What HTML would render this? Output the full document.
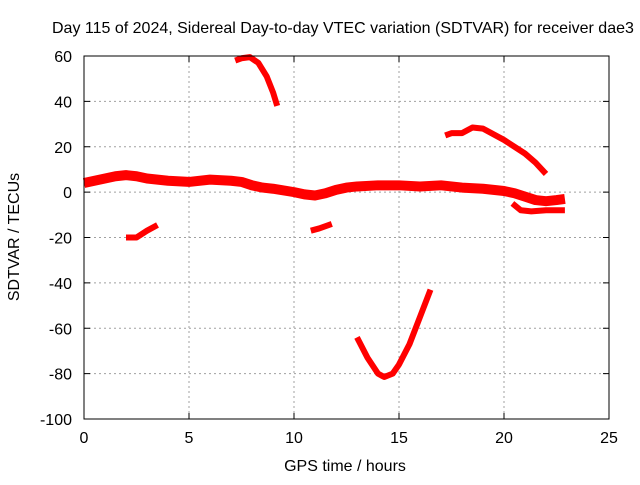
<!DOCTYPE html>
<html><head><meta charset="utf-8"><style>
body{margin:0;background:#fff;}
svg text{font-family:"Liberation Sans",sans-serif;font-size:16px;fill:#000;}
</style></head><body>
<svg id="chart" width="640" height="480" xmlns="http://www.w3.org/2000/svg">
<text x="52" y="33" text-anchor="start">Day 115 of 2024, Sidereal Day-to-day VTEC variation (SDTVAR) for receiver dae3</text>
<text x="345" y="471" text-anchor="middle">GPS time / hours</text>
<text transform="translate(19,237) rotate(-90)" text-anchor="middle">SDTVAR / TECUs</text>
<g id="grid"></g>
<g id="series"></g>
<rect x="84" y="56" width="525" height="363" fill="none" stroke="#000" stroke-width="1"/>
<g id="ticks"></g>
</svg>
<script>
const xTicks=[0,5,10,15,20,25];
const yTicks=[60,40,20,0,-20,-40,-60,-80,-100];
const mainBand=[[0,4],[0.5,5],[1,6],[1.5,7],[2,7.5],[2.5,7],[3,6],[3.5,5.5],[4,5],[5,4.5],[6,5.5],[7,5],[7.5,4.5],[8,3],[8.5,2],[9,1.5],[10,0],[10.5,-1],[11,-1.5],[11.5,-0.5],[12,1],[12.5,2],[13,2.5],[14,3],[15,3],[16,2.5],[17,3],[18,2],[19,1.5],[20,0.5],[20.5,-0.5],[21,-2],[21.5,-3.5],[22,-4],[22.5,-3.5],[22.9,-3]];
const lowerBranch=[[20.4,-5],[20.8,-8],[21.3,-8.5],[22,-8],[22.9,-8]];
const segA=[[2,-20],[2.5,-20],[3,-17],[3.5,-14.5]];
const segB=[[10.8,-17],[11.2,-16],[11.8,-14]];
const topArch=[[7.2,58],[7.5,59],[7.9,59.5],[8.3,57],[8.7,51],[9.0,44],[9.2,38]];
const rightUpper=[[17.2,25],[17.5,26],[18,26],[18.5,28.5],[19,28],[20,23],[21,17],[21.5,13],[22,8]];
const valley=[[13,-64],[13.5,-73],[14,-80],[14.3,-81.5],[14.7,-80],[15,-76],[15.5,-67],[16,-55],[16.5,-43]];
const NS="http://www.w3.org/2000/svg";
const X0=84,X1=609,Y0=419,Y1=56;
function xs(v){return X0+(v-0)/(25-0)*(X1-X0);}
function ys(v){return Y0-(v+100)/160*(Y0-Y1);}
const grid=document.getElementById('grid'),ticks=document.getElementById('ticks'),ser=document.getElementById('series');
function mk(t,a,p){const e=document.createElementNS(NS,t);for(const k in a)e.setAttribute(k,a[k]);p.appendChild(e);return e;}
xTicks.forEach(v=>{const x=xs(v);
 if(v>0&&v<25){const g=mk('line',{x1:x,x2:x,y1:Y1,y2:Y0,stroke:'#a0a0a0','stroke-dasharray':'2,3'},grid);
 
 }
 const t1=mk('line',{x1:x,x2:x,y1:Y0,y2:Y0-6,stroke:'#000'},ticks);
 
 
 const t2=mk('line',{x1:x,x2:x,y1:Y1,y2:Y1+6,stroke:'#000'},ticks);
 
 
 const l=mk('text',{x:x,y:443,'text-anchor':'middle'},ticks);l.textContent=v;
 
 
});
yTicks.forEach(v=>{const y=ys(v);
 if(v>-100&&v<60){const g=mk('line',{x1:X0,x2:X1,y1:y,y2:y,stroke:'#a0a0a0','stroke-dasharray':'2,3'},grid);
 
 }
 const t1=mk('line',{x1:X0,x2:X0+6,y1:y,y2:y,stroke:'#000'},ticks);
 
 
 const t2=mk('line',{x1:X1,x2:X1-6,y1:y,y2:y,stroke:'#000'},ticks);
 
 
 const l=mk('text',{x:72,y:y+6,'text-anchor':'end'},ticks);l.textContent=v;
 
 
});
function draw(data,name,w){
 const p=mk('polyline',{points:data.map(d=>xs(d[0])+','+ys(d[1])).join(' '),fill:'none',stroke:'#ff0000','stroke-width':w,'stroke-linejoin':'round','stroke-linecap':'butt'},ser);
 
 
}
draw(mainBand,'main-band-series',10);
draw(lowerBranch,'lower-branch-series',6);
draw(segA,'segment-near-3h',6);
draw(segB,'segment-near-11h',6);
draw(topArch,'top-arch-series',6);
draw(rightUpper,'right-upper-series',6);
draw(valley,'valley-series',6);
</script>
</body></html>
